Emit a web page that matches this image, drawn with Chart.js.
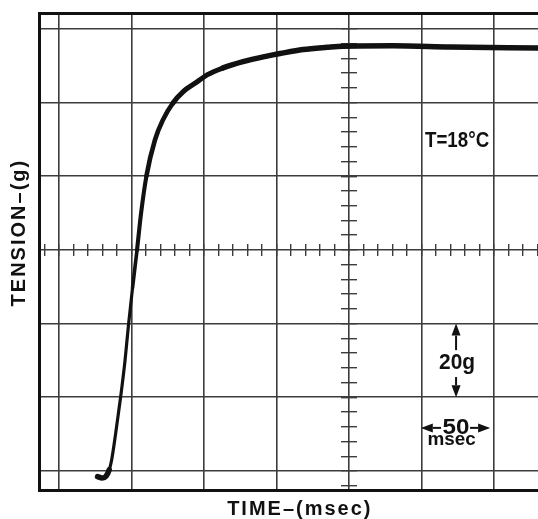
<!DOCTYPE html>
<html>
<head>
<meta charset="utf-8">
<script src="https://cdn.jsdelivr.net/npm/chart.js@4.4.1/dist/chart.umd.min.js"></script>
<style>
  html, body { margin: 0; padding: 0; background: #fff; }
  canvas { display: block; }
</style>
</head>
<body>
<canvas id="chart" width="538" height="519"></canvas>
<script>
// scope trace: time in msec, tension in g
const timeMs = [26.6, 29.7, 32.4, 34.6, 36.3, 39.0, 42.4, 45.5, 47.9, 50.7, 53.8, 56.6, 60.3, 66.2, 71.7, 78.6, 85.5, 95.2, 102.1, 113.1, 126.9, 143.4, 152.4, 168.3, 184.8, 195.9, 230.3, 269.7, 330.3];
const tensionG = [-1.5, -1.9, -1.4, 0.3, 3.0, 10.0, 19.8, 29.9, 39.6, 49.7, 60.0, 70.0, 80.1, 89.9, 95.3, 99.9, 102.9, 105.6, 107.5, 109.4, 111.1, 112.6, 113.3, 114.4, 115.0, 115.3, 115.4, 115.1, 114.8];

// graticule: 50 msec and 20 g per division, 5 minor ticks per division
const timeRange = [-13.8, 330.3];
const tensionRange = [-5.16, 124.3];
const timeStep = 50;
const tensionStep = 20;

const ctx = document.getElementById("chart").getContext("2d");
const ink = "#111";
const gridInk = "#3c3c3c";

Chart.defaults.font.family = "'Liberation Sans', Arial, sans-serif";
Chart.defaults.color = ink;

// labels written on the photo (squeeze = horizontal scale of the lettering)
const notes = [
    { text: "T=18°C", x: 274.5, y: 89.6, font: "bold 22px 'Liberation Sans', sans-serif", squeeze: 0.85 },
    { text: "20g", x: 274.5, y: 29.3, font: "bold 22px 'Liberation Sans', sans-serif", squeeze: 0.95 },
    { text: "50", x: 273.8, y: 11.7, font: "bold 22px 'Liberation Sans', sans-serif", squeeze: 1.1 },
    { text: "msec", x: 270.7, y: 8.4, font: "bold 18px 'Liberation Sans', sans-serif", squeeze: 1.05 }
];
const arrows = [
    { from: [273.8, 32.8], to: [273.8, 40] },
    { from: [273.8, 25.5], to: [273.8, 20] },
    { from: [263.4, 11.7], to: [249.5, 11.7] },
    { from: [283.4, 11.7], to: [297.3, 11.7] }
];

const lettering = {
    id: "lettering",
    beforeDraw(chart) {
        chart.ctx.letterSpacing = "2px";
    },
    afterDraw(chart) {
        const c = chart.ctx;
        const sx = chart.scales.x, sy = chart.scales.y;
        c.save();
        c.letterSpacing = "0px";
        c.fillStyle = ink;
        c.strokeStyle = ink;
        c.textAlign = "center";
        c.textBaseline = "middle";
        notes.forEach(n => {
            c.save();
            c.font = n.font;
            c.translate(sx.getPixelForValue(n.x), sy.getPixelForValue(n.y));
            c.scale(n.squeeze, 1);
            c.fillText(n.text, 0, 0);
            c.restore();
        });
        arrows.forEach(a => {
            const x1 = sx.getPixelForValue(a.from[0]), y1 = sy.getPixelForValue(a.from[1]);
            const x2 = sx.getPixelForValue(a.to[0]), y2 = sy.getPixelForValue(a.to[1]);
            const len = Math.hypot(x2 - x1, y2 - y1);
            const ux = (x2 - x1) / len, uy = (y2 - y1) / len;
            const head = 12, half = 4.5;
            const bx = x2 - ux * head, by = y2 - uy * head;
            c.lineWidth = 2;
            c.beginPath();
            c.moveTo(x1, y1);
            c.lineTo(bx, by);
            c.stroke();
            c.beginPath();
            c.moveTo(x2, y2);
            c.lineTo(bx - uy * half, by + ux * half);
            c.lineTo(bx + uy * half, by - ux * half);
            c.closePath();
            c.fill();
        });
        c.restore();
    }
};

// the beam trace is thinner where it moves fast
function traceWidth(c) {
    if (c.p0DataIndex < 3) return 5.5;
    const y = c.p1.parsed.y;
    if (y < 50) return 3.2;
    if (y < 70) return 3.6;
    if (y < 88) return 4.1;
    if (y < 100) return 4.6;
    if (y < 110) return 5.1;
    return 5.5;
}

const chart = new Chart(ctx, {
    type: "line",
    data: {
        datasets: [{
            data: timeMs.map((t, i) => ({ x: t, y: tensionG[i] })),
            borderColor: ink,
            borderWidth: 5,
            pointRadius: 0,
            cubicInterpolationMode: "monotone",
            borderCapStyle: "round",
            borderJoinStyle: "round",
            segment: { borderWidth: traceWidth }
        }]
    },
    options: {
        responsive: false,
        animation: false,
        events: [],
        layout: { padding: 0, autoPadding: false },
        plugins: { legend: { display: false }, tooltip: { enabled: false } },
        scales: {
            x: {
                type: "linear",
                position: "bottom",
                min: timeRange[0],
                max: timeRange[1],
                afterFit: s => { s.height = 29; },
                ticks: { display: false, stepSize: timeStep, includeBounds: false },
                grid: { color: gridInk, lineWidth: 1.6, drawTicks: false },
                border: { color: ink, width: 3 },
                title: {
                    display: true,
                    text: "   TIME–(msec)",
                    font: { size: 20, weight: "bold", lineHeight: 1 },
                    padding: { top: 0, bottom: 0 }
                }
            },
            xTop: {
                type: "linear",
                position: "top",
                min: timeRange[0],
                max: timeRange[1],
                afterFit: s => { s.height = 13; },
                ticks: { display: false },
                grid: { drawOnChartArea: false, drawTicks: false },
                border: { color: ink, width: 3 }
            },
            y: {
                type: "linear",
                position: "left",
                min: tensionRange[0],
                max: tensionRange[1],
                afterFit: s => { s.width = 39; },
                ticks: { display: false, stepSize: tensionStep, includeBounds: false },
                grid: { color: gridInk, lineWidth: 1.6, drawTicks: false },
                border: { color: ink, width: 3 },
                title: {
                    display: true,
                    text: "     TENSION–(g)",
                    font: { size: 20, weight: "bold", lineHeight: 1 },
                    padding: { top: 9, bottom: 0 }
                }
            },
            // minor ticks on the centre lines of the graticule
            xm: {
                type: "linear",
                axis: "x",
                position: { y: 60 + 1.63 },
                min: timeRange[0],
                max: timeRange[1],
                afterFit: s => { s.height = 0; },
                ticks: { display: false, stepSize: timeStep / 5, includeBounds: false },
                grid: { drawOnChartArea: false, tickLength: 12, color: gridInk, lineWidth: 1.4 },
                border: { display: false }
            },
            ym: {
                type: "linear",
                axis: "y",
                position: { x: 200 + 5.5 },
                min: tensionRange[0],
                max: tensionRange[1],
                afterFit: s => { s.width = 0; },
                ticks: { display: false, stepSize: tensionStep / 5, includeBounds: false },
                grid: { drawOnChartArea: false, tickLength: 16, color: gridInk, lineWidth: 1.4 },
                border: { display: false }
            }
        }
    },
    plugins: [lettering]
});
</script>
</body>
</html>
